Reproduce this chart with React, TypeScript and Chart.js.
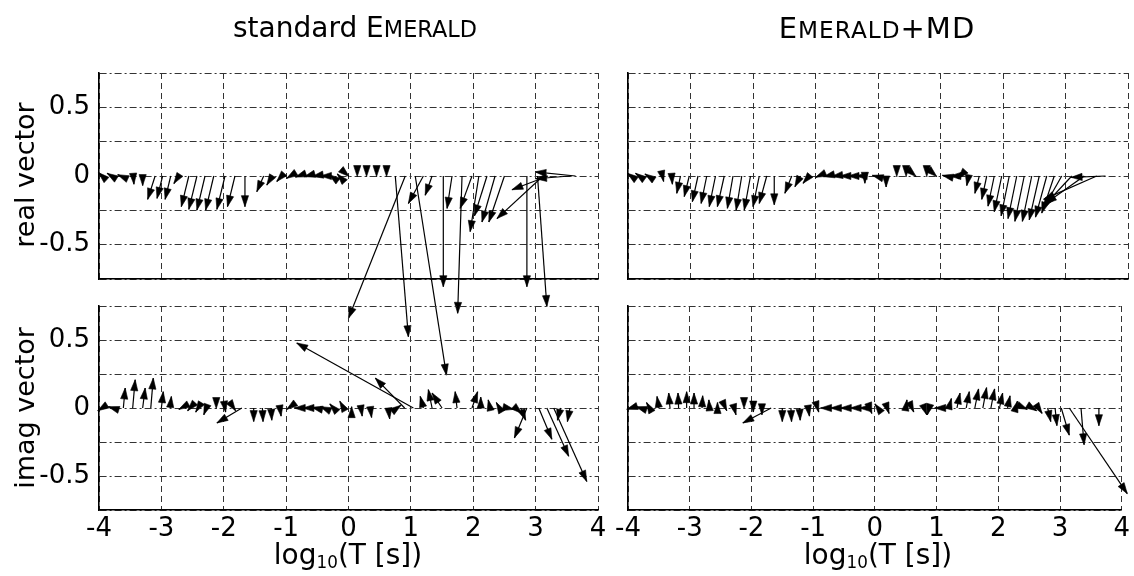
import React, { useEffect, useRef } from 'react';
import { Chart, registerables } from 'chart.js';

Chart.register(...registerables);

const FONT = "'DejaVu Sans', 'Liberation Sans', Arial, sans-serif";
const PAGE_W = 1134;
const PAGE_H = 576;

// axis ticks
const xTickValues = [-4, -3, -2, -1, 0, 1, 2, 3, 4];
const xTickLabels = ['-4', '-3', '-2', '-1', '0', '1', '2', '3', '4'];
const yGridValues = [-0.75, -0.5, -0.25, 0, 0.25, 0.5, 0.75];
const yTickValues = [-0.5, 0, 0.5];
const yTickLabels = ['-0.5', '0', '0.5'];

// standard EMERALD, real induction vectors: log10(T), u (along x), v (along y)
const stdRealX = [-3.95, -3.8, -3.65, -3.45, -3.3, -3.1, -2.98, -2.85, -2.72, -2.56, -2.43, -2.3, -2.16, -1.98, -1.82, -1.66, -1.36, -1.22, -1.07, -0.93, -0.8, -0.67, -0.54, -0.41, -0.28, -0.15, 0.0, 0.14, 0.29, 0.45, 0.61, 0.75, 0.91, 1.07, 1.2, 1.34, 1.52, 1.66, 1.82, 1.98, 2.09, 2.22, 2.35, 2.5, 2.86, 3.03, 3.12, 3.2, 3.55, 3.64];
const stdRealU = [-0.06, -0.07, -0.05, 0.01, 0.0, -0.12, -0.09, -0.09, -0.08, -0.12, -0.13, -0.13, -0.13, -0.13, -0.12, 0.0, -0.11, -0.09, -0.08, -0.06, -0.05, -0.04, -0.04, -0.04, -0.03, -0.03, 0.01, 0.0, 0.0, 0.0, 0.0, 0.21, -0.91, 0.5, -0.24, -0.11, 0.0, -0.08, -0.07, -0.19, -0.14, -0.2, -0.21, -0.25, 0.0, 0.15, -0.74, -0.58, -0.55, -0.65];
const stdRealV = [0.025, 0.02, 0.01, -0.06, -0.07, -0.17, -0.163, -0.17, -0.055, -0.223, -0.243, -0.248, -0.248, -0.243, -0.223, -0.223, -0.114, -0.066, -0.04, -0.017, -0.008, -0.005, -0.003, 0.0, 0.01, 0.015, -0.004, -0.004, -0.004, -0.004, -0.004, -1.17, -1.036, -1.45, -0.2, -0.14, -0.806, -0.236, -1.0, -0.236, -0.405, -0.29, -0.335, -0.335, -0.806, -0.95, -0.31, -0.1, -0.02, 0.03];

// standard EMERALD, imaginary induction vectors
const stdImagX = [-3.95, -3.78, -3.61, -3.46, -3.3, -3.17, -3.0, -2.86, -2.68, -2.54, -2.41, -2.28, -2.12, -1.98, -1.84, -1.71, -1.52, -1.38, -1.24, -1.1, -0.96, -0.82, -0.68, -0.54, -0.4, -0.24, -0.08, 0.05, 0.2, 0.35, 0.64, 0.78, 0.9, 1.04, 1.2, 1.34, 1.5, 1.74, 1.98, 2.12, 2.27, 2.42, 2.55, 2.68, 2.76, 2.86, 3.05, 3.18, 3.29, 3.4, 3.55];
const stdImagU = [-0.07, -0.07, 0.03, 0.04, 0.04, 0.04, 0.03, 0.02, -0.04, -0.04, -0.04, -0.04, 0.0, 0.01, 0.03, -0.4, 0.0, 0.01, 0.01, 0.02, -0.03, -0.05, -0.05, -0.05, -0.05, -0.06, -0.06, 0.0, 0.02, 0.02, 0.02, 0.06, -0.47, -1.87, -0.05, -0.06, -0.16, -0.03, 0.09, 0.0, -0.03, -0.05, 0.1, 0.1, 0.08, -0.2, 0.21, 0.35, 0.53, -0.05, -0.04];
const stdImagV = [-0.02, 0.01, 0.147, 0.208, 0.147, 0.22, 0.12, 0.085, -0.01, -0.02, -0.03, -0.05, -0.004, -0.03, -0.02, -0.11, -0.1, -0.1, -0.09, -0.06, -0.01, 0.0, 0.0, 0.005, 0.01, 0.03, 0.05, 0.01, -0.06, -0.07, -0.08, 0.02, 0.22, 0.478, 0.086, 0.135, 0.11, 0.12, 0.12, 0.08, 0.06, 0.04, -0.01, -0.04, -0.09, -0.22, -0.23, -0.355, -0.54, -0.09, -0.1];

// EMERALD+MD, real induction vectors
const mdRealX = [-3.95, -3.82, -3.68, -3.45, -3.3, -3.16, -3.02, -2.88, -2.74, -2.6, -2.46, -2.32, -2.18, -2.04, -1.9, -1.78, -1.66, -1.38, -1.24, -1.1, -0.95, -0.82, -0.69, -0.56, -0.43, -0.3, -0.21, -0.05, 0.13, 0.3, 0.45, 0.6, 0.78, 0.93, 1.08, 1.2, 1.32, 1.45, 1.62, 1.74, 1.86, 1.98, 2.1, 2.22, 2.34, 2.46, 2.58, 2.7, 2.82, 2.94, 3.1, 3.3, 3.5, 3.64];
const mdRealU = [-0.06, -0.06, -0.05, 0.02, 0.01, -0.06, -0.08, -0.09, -0.09, -0.1, -0.11, -0.09, -0.09, -0.1, -0.1, -0.12, 0.0, -0.11, -0.09, -0.1, -0.05, -0.05, -0.05, -0.05, -0.05, -0.05, 0.0, -0.04, 0.0, 0.0, 0.0, 0.01, 0.0, 0.01, -0.05, -0.05, -0.04, -0.03, -0.07, -0.08, -0.1, -0.12, -0.13, -0.14, -0.15, -0.15, -0.16, -0.18, -0.2, -0.3, -0.45, -0.62, -0.85, -0.55];
const mdRealV = [0.02, 0.02, 0.015, -0.04, -0.06, -0.126, -0.15, -0.187, -0.2, -0.223, -0.223, -0.235, -0.248, -0.248, -0.223, -0.2, -0.21, -0.126, -0.078, -0.053, -0.01, -0.005, -0.003, 0.0, 0.0, 0.0, -0.053, 0.005, -0.08, -0.004, -0.004, -0.004, -0.004, -0.004, 0.005, 0.0, -0.02, -0.07, -0.126, -0.17, -0.22, -0.26, -0.29, -0.31, -0.33, -0.33, -0.32, -0.3, -0.27, -0.24, -0.22, -0.2, -0.17, -0.01];

// EMERALD+MD, imaginary induction vectors
const mdImagX = [-3.95, -3.8, -3.65, -3.5, -3.32, -3.18, -3.05, -2.93, -2.8, -2.68, -2.55, -2.42, -2.28, -2.12, -1.97, -1.83, -1.68, -1.5, -1.36, -1.22, -1.08, -0.93, -0.82, -0.66, -0.5, -0.34, -0.2, -0.08, 0.05, 0.2, 0.5, 0.6, 0.8, 0.88, 1.03, 1.2, 1.33, 1.48, 1.62, 1.75, 1.88, 2.02, 2.15, 2.28, 2.42, 2.55, 2.65, 2.8, 2.92, 3.02, 3.15, 3.34, 3.63];
const mdImagU = [-0.07, -0.07, -0.05, -0.03, -0.02, -0.01, 0.0, 0.0, 0.01, -0.01, 0.0, 0.02, 0.03, 0.0, 0.0, 0.0, -0.46, 0.0, 0.01, 0.01, 0.02, 0.02, -0.06, -0.06, -0.06, -0.06, -0.05, 0.03, -0.05, 0.03, 0.02, 0.03, 0.04, -0.03, -0.06, 0.04, 0.05, 0.05, 0.06, 0.06, 0.06, 0.05, 0.04, 0.03, 0.05, 0.07, 0.06, 0.05, 0.03, 0.13, 0.94, 0.05, 0.0];
const mdImagV = [-0.01, 0.01, 0.04, 0.085, 0.11, 0.11, 0.12, 0.11, 0.09, 0.06, 0.04, -0.02, -0.05, -0.004, -0.03, -0.05, -0.11, -0.1, -0.1, -0.09, -0.06, -0.03, 0.0, 0.0, 0.0, 0.0, 0.0, -0.04, 0.03, -0.04, 0.06, -0.03, -0.05, -0.05, 0.0, 0.07, 0.11, 0.12, 0.14, 0.15, 0.14, 0.11, 0.09, 0.05, -0.01, -0.02, -0.04, -0.1, -0.13, -0.2, -0.63, -0.27, -0.13];

type PanelSpec = {
  xs: number[];
  us: number[];
  vs: number[];
  left: number;
  top: number;
  right: number;
  bottom: number;
  showXLabels: boolean;
  showYLabels: boolean;
};

const panels: PanelSpec[] = [
  { xs: stdRealX, us: stdRealU, vs: stdRealV, left: 99, top: 73, right: 598, bottom: 279, showXLabels: false, showYLabels: true },
  { xs: mdRealX, us: mdRealU, vs: mdRealV, left: 628, top: 73, right: 1128, bottom: 279, showXLabels: false, showYLabels: false },
  { xs: stdImagX, us: stdImagU, vs: stdImagV, left: 99, top: 306, right: 598, bottom: 510, showXLabels: true, showYLabels: true },
  { xs: mdImagX, us: mdImagU, vs: mdImagV, left: 628, top: 306, right: 1128, bottom: 510, showXLabels: true, showYLabels: false },
];

const HEAD_LEN = 11;
const HEAD_HALF = 3.6;

function quiverPlugin(xs: number[], us: number[], vs: number[]) {
  return {
    id: 'quiver',
    afterDatasetsDraw(chart: any) {
      const ctx = chart.ctx;
      const sx = chart.scales.x;
      const sy = chart.scales.y;
      ctx.save();
      ctx.strokeStyle = '#000';
      ctx.fillStyle = '#000';
      ctx.setLineDash([]);
      for (let i = 0; i < xs.length; i++) {
        const x0 = sx.getPixelForValue(xs[i]);
        const y0 = sy.getPixelForValue(0);
        const x1 = sx.getPixelForValue(xs[i] + us[i]);
        const y1 = sy.getPixelForValue(vs[i]);
        const dx = x1 - x0;
        const dy = y1 - y0;
        const len = Math.hypot(dx, dy);
        if (len < 1e-6) continue;
        const ux = dx / len;
        const uy = dy / len;
        ctx.lineWidth = 1.2;
        ctx.beginPath();
        ctx.moveTo(x0, y0);
        ctx.lineTo(x1, y1);
        ctx.stroke();
        const bx = x1 - ux * HEAD_LEN;
        const by = y1 - uy * HEAD_LEN;
        ctx.beginPath();
        ctx.moveTo(x1, y1);
        ctx.lineTo(bx - uy * HEAD_HALF, by + ux * HEAD_HALF);
        ctx.lineTo(bx + uy * HEAD_HALF, by - ux * HEAD_HALF);
        ctx.closePath();
        ctx.fill();
        ctx.lineWidth = 0.6;
        ctx.stroke();
      }
      ctx.restore();
    },
  };
}

function labelFor(values: number[], labels: string[], v: number): string {
  const i = values.findIndex((t) => Math.abs(t - v) < 1e-9);
  return i >= 0 ? labels[i] : '';
}

function Panel({ spec }: { spec: PanelSpec }) {
  const ref = useRef<HTMLCanvasElement>(null);
  useEffect(() => {
    const canvas = ref.current;
    if (!canvas) return;
    const gridColor = '#333333';
    const tickFont = { family: FONT, size: 26 };
    const chart = new Chart(canvas, {
      type: 'scatter',
      data: {
        datasets: [
          {
            data: spec.xs.map((x) => ({ x, y: 0 })),
            pointRadius: 0,
            pointHoverRadius: 0,
            showLine: false,
          },
        ],
      },
      options: {
        animation: false,
        responsive: false,
        devicePixelRatio: 1,
        events: [],
        layout: {
          autoPadding: false,
          padding: { left: 0, top: spec.top, right: PAGE_W - spec.right, bottom: 0 },
        },
        plugins: { legend: { display: false }, tooltip: { enabled: false } },
        scales: {
          x: {
            type: 'linear',
            min: -4,
            max: 4,
            afterBuildTicks: (scale: any) => {
              scale.ticks = xTickValues.map((v) => ({ value: v }));
            },
            ticks: {
              display: spec.showXLabels,
              autoSkip: false,
              maxRotation: 0,
              minRotation: 0,
              padding: 4,
              color: '#000',
              font: tickFont,
              callback: (v: any) => labelFor(xTickValues, xTickLabels, Number(v)),
            },
            grid: { color: gridColor, lineWidth: 1, drawTicks: false },
            border: { display: true, color: '#000', width: 1.6, dash: [6, 4] },
            afterFit: (scale: any) => {
              scale.height = PAGE_H - spec.bottom;
            },
          },
          y: {
            type: 'linear',
            min: -0.75,
            max: 0.75,
            afterBuildTicks: (scale: any) => {
              scale.ticks = yGridValues.map((v) => ({ value: v }));
            },
            ticks: {
              display: spec.showYLabels,
              autoSkip: false,
              padding: 9,
              color: '#000',
              font: tickFont,
              callback: (v: any) => labelFor(yTickValues, yTickLabels, Number(v)),
            },
            grid: { color: gridColor, lineWidth: 1, drawTicks: false },
            border: { display: true, color: '#000', width: 1.6, dash: [7, 3, 2, 3] },
            afterFit: (scale: any) => {
              scale.width = spec.left;
            },
          },
        },
      } as any,
      plugins: [quiverPlugin(spec.xs, spec.us, spec.vs)],
    });
    return () => chart.destroy();
  }, [spec]);
  return (
    <canvas
      ref={ref}
      width={PAGE_W}
      height={PAGE_H}
      style={{ position: 'absolute', left: 0, top: 0, width: PAGE_W, height: PAGE_H }}
    />
  );
}

const textBase: React.CSSProperties = {
  position: 'absolute',
  fontFamily: FONT,
  color: '#000',
  whiteSpace: 'nowrap',
  lineHeight: 1,
};

export default function App() {
  return (
    <div style={{ position: 'fixed', left: 0, top: 0, width: PAGE_W, height: PAGE_H, background: '#fff', overflow: 'hidden' }}>
      {panels.map((p, i) => (
        <Panel key={i} spec={p} />
      ))}
      <div style={{ ...textBase, left: 355, top: 28, fontSize: 28, transform: 'translate(-50%, -50%)' }}>
        standard E<span style={{ fontSize: '0.8em' }}>MERALD</span>
      </div>
      <div style={{ ...textBase, left: 877, top: 28, fontSize: 29, letterSpacing: 1, transform: 'translate(-50%, -50%)' }}>
        E<span style={{ fontSize: '0.8em' }}>MERALD</span>+MD
      </div>
      <div style={{ ...textBase, left: 24, top: 175, fontSize: 27, transform: 'translate(-50%, -50%) rotate(-90deg)' }}>
        real vector
      </div>
      <div style={{ ...textBase, left: 24, top: 408, fontSize: 27, transform: 'translate(-50%, -50%) rotate(-90deg)' }}>
        imag vector
      </div>
      <div style={{ ...textBase, left: 348, top: 556, fontSize: 28, transform: 'translate(-50%, -50%)' }}>
        log<sub style={{ fontSize: '0.6em', verticalAlign: '-0.25em' }}>10</sub>(T [s])
      </div>
      <div style={{ ...textBase, left: 878, top: 556, fontSize: 28, transform: 'translate(-50%, -50%)' }}>
        log<sub style={{ fontSize: '0.6em', verticalAlign: '-0.25em' }}>10</sub>(T [s])
      </div>
    </div>
  );
}
